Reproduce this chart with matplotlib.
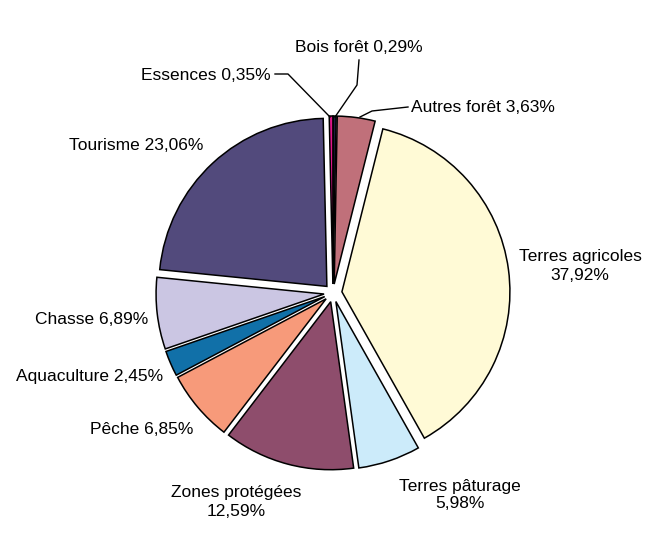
import matplotlib
matplotlib.use("Agg")
import matplotlib.pyplot as plt

# ---- data (clockwise from 12 o'clock) ----
categories = ["Bois forêt", "Autres forêt", "Terres agricoles", "Terres pâturage",
              "Zones protégées", "Pêche", "Aquaculture", "Chasse", "Tourisme", "Essences"]
values = [0.29, 3.63, 37.92, 5.98, 12.59, 6.85, 2.45, 6.89, 23.06, 0.35]
colors = ["#1c1c3c", "#C0707A", "#FFFAD6", "#CCEBFA", "#8E4D6C",
          "#F79A7A", "#1170A8", "#CBC6E3", "#524A7C", "#E0168A"]
two_line = {"Terres agricoles", "Terres pâturage", "Zones protégées"}

W, H = 659, 538
fig = plt.figure(figsize=(W / 100, H / 100), dpi=100)
ax = fig.add_axes([0, 0, 1, 1])
ax.set_xlim(0, W)
ax.set_ylim(0, H)
ax.set_aspect("equal")
ax.axis("off")

cx, cy = 333, H - 293
R = 168
ax.pie(values, colors=colors, startangle=90, counterclock=False,
       explode=[9] * len(values), radius=R, center=(cx, cy),
       wedgeprops=dict(edgecolor="black", linewidth=1.1))
ax.set_xlim(0, W)
ax.set_ylim(0, H)


def fmt(v):
    return f"{v:.2f}".replace(".", ",") + "%"


# label anchor positions in pixel coordinates (top-left origin)
label_pos = {
    "Bois forêt": (359, 47, "center"),
    "Autres forêt": (411, 107, "left"),
    "Terres agricoles": (580, 266, "center"),
    "Terres pâturage": (460, 495, "center"),
    "Zones protégées": (236, 502, "center"),
    "Pêche": (193, 429, "right"),
    "Aquaculture": (163, 377, "right"),
    "Chasse": (148, 320, "right"),
    "Tourisme": (203, 146, "right"),
    "Essences": (271, 75, "right"),
}

for name, v in zip(categories, values):
    x, y, ha = label_pos[name]
    sep = "\n" if name in two_line else " "
    ax.text(x, H - y, f"{name}{sep}{fmt(v)}", ha=ha, va="center",
            fontsize=12.5, family=["Liberation Sans", "DejaVu Sans"],
            linespacing=1.25, color="black")

# leader lines (pixel coords, top-left origin)
leaders = [
    [(359, 60), (357, 85), (335, 117)],
    [(275, 74), (288, 74), (330, 117)],
    [(408, 107), (372, 111), (360, 117)],
]
for pts in leaders:
    xs = [p[0] for p in pts]
    ys = [H - p[1] for p in pts]
    ax.plot(xs, ys, color="black", linewidth=1.0)

fig.savefig("out.png", dpi=100)
